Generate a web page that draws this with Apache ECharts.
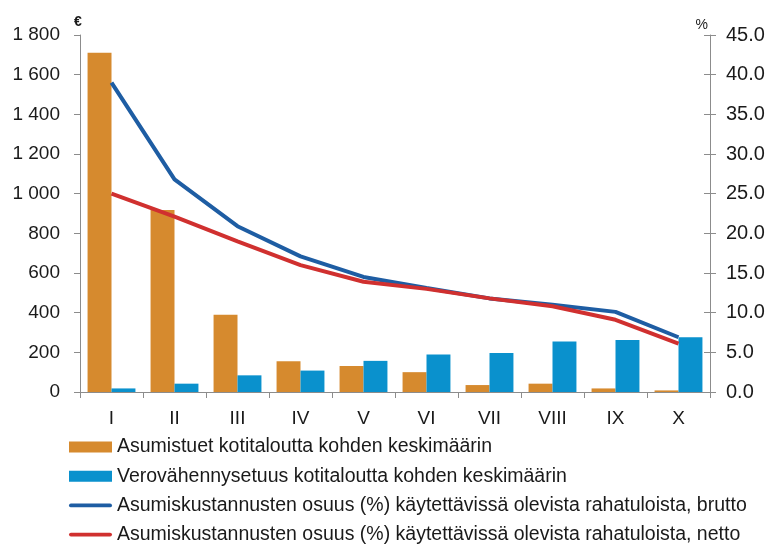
<!DOCTYPE html>
<html>
<head>
<meta charset="utf-8">
<script src="https://cdn.jsdelivr.net/npm/echarts@6/dist/echarts.min.js"></script>
<style>
  html, body { margin: 0; padding: 0; background: #ffffff; }
  #chart { width: 770px; height: 544px; }
</style>
</head>
<body>
<div id="chart"></div>
<script>
// desiilit
var categories = ['I', 'II', 'III', 'IV', 'V', 'VI', 'VII', 'VIII', 'IX', 'X'];

// € / kotitalous
var asumistuet = [1710, 918, 390, 155, 131, 100, 35, 42, 18, 8];
var verovahennys = [18, 42, 84, 108, 157, 189, 197, 254, 262, 276];

// % käytettävissä olevista rahatuloista
var osuusBrutto = [39.0, 26.8, 20.9, 17.1, 14.5, 13.1, 11.8, 11.0, 10.1, 6.9];
var osuusNetto = [25.0, 22.1, 19.0, 16.0, 13.9, 13.0, 11.8, 10.8, 9.1, 6.1];

var leftTicks = ['0', '200', '400', '600', '800', '1 000', '1 200', '1 400', '1 600', '1 800'];

var names = [
  'Asumistuet kotitaloutta kohden keskimäärin',
  'Verovähennysetuus kotitaloutta kohden keskimäärin',
  'Asumiskustannusten osuus (%) käytettävissä olevista rahatuloista, brutto',
  'Asumiskustannusten osuus (%) käytettävissä olevista rahatuloista, netto'
];

var font = 'Liberation Sans, Arial, sans-serif';
var axisGrey = '#8c8c8c';
var txt = '#1a1a1a';
// thin stripe in the middle of a 43x11 box, for the line series in the legend
var lineIcon = 'path://M0,0 M43,11 M1.5,3.5 L41.5,3.5 A2,2 0 0 1 41.5,7.5 L1.5,7.5 A2,2 0 0 1 1.5,3.5 Z';

var chart = echarts.init(document.getElementById('chart'));

var option = {
  animation: false,
  textStyle: { fontFamily: font },
  grid: { left: 80, right: 60, top: 35, bottom: 152 },
  legend: {
    orient: 'vertical',
    left: 69,
    top: 437,
    height: 160,
    padding: 0,
    itemWidth: 43,
    itemHeight: 11,
    itemGap: 9.2,
    textStyle: { fontSize: 19.5, color: txt, lineHeight: 20, fontFamily: font },
    data: [
      { name: names[0], icon: 'rect' },
      { name: names[1], icon: 'rect' },
      { name: names[2], icon: lineIcon, itemStyle: { color: '#1e5da3' } },
      { name: names[3], icon: lineIcon, itemStyle: { color: '#d0302f' } }
    ]
  },
  xAxis: {
    type: 'category',
    data: categories,
    axisLine: { lineStyle: { color: axisGrey, width: 1 } },
    axisTick: { show: true, length: 6, lineStyle: { color: axisGrey } },
    axisLabel: { color: txt, fontSize: 19, margin: 17 }
  },
  yAxis: [
    {
      type: 'value',
      min: 0,
      max: 1800,
      interval: 200,
      name: '€',
      nameGap: 6,
      nameTextStyle: { color: txt, fontSize: 14, fontWeight: 'bold', align: 'left', padding: [0, 0, 0, -6] },
      axisLine: { show: true, lineStyle: { color: axisGrey } },
      axisTick: { show: true, length: 6, lineStyle: { color: axisGrey } },
      splitLine: { show: false },
      axisLabel: {
        color: txt,
        fontSize: 19,
        margin: 20,
        formatter: function (v) { return leftTicks[Math.round(v / 200)]; }
      }
    },
    {
      type: 'value',
      min: 0,
      max: 45,
      interval: 5,
      name: '%',
      nameGap: 3,
      nameTextStyle: { color: txt, fontSize: 14, align: 'right', padding: [0, 2, 0, 0] },
      axisLine: { show: true, lineStyle: { color: axisGrey } },
      axisTick: { show: true, length: 6, lineStyle: { color: axisGrey } },
      splitLine: { show: false },
      axisLabel: {
        color: txt,
        fontSize: 20,
        margin: 16,
        formatter: function (v) { return v.toFixed(1); }
      }
    },
    {
      // inner half of the right-hand ticks
      type: 'value',
      position: 'right',
      min: 0,
      max: 45,
      interval: 5,
      axisLine: { show: false },
      axisTick: { show: true, inside: true, length: 6, lineStyle: { color: axisGrey } },
      axisLabel: { show: false },
      splitLine: { show: false }
    }
  ],
  series: [
    {
      name: names[0],
      type: 'bar',
      data: asumistuet,
      barCategoryGap: '24%',
      barGap: '0%',
      itemStyle: { color: '#d68a2e' }
    },
    {
      name: names[1],
      type: 'bar',
      data: verovahennys,
      barCategoryGap: '24%',
      barGap: '0%',
      itemStyle: { color: '#0a91cd' }
    },
    {
      name: names[2],
      type: 'line',
      yAxisIndex: 1,
      data: osuusBrutto,
      symbol: 'none',
      lineStyle: { color: '#1e5da3', width: 4 },
      itemStyle: { color: '#1e5da3' }
    },
    {
      name: names[3],
      type: 'line',
      yAxisIndex: 1,
      data: osuusNetto,
      symbol: 'none',
      lineStyle: { color: '#d0302f', width: 4 },
      itemStyle: { color: '#d0302f' }
    }
  ]
};

chart.setOption(option);
</script>
</body>
</html>
